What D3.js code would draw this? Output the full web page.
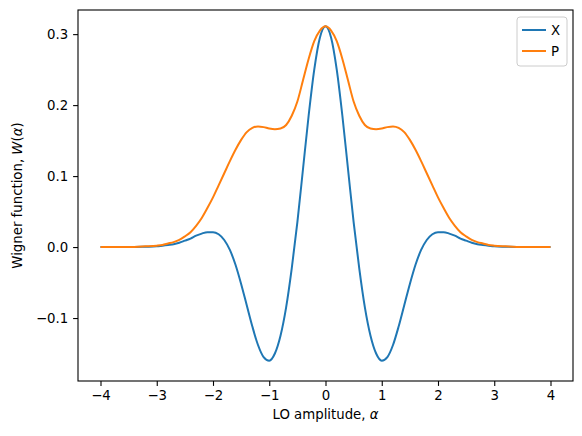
<!DOCTYPE html><html><head><meta charset="utf-8"><script src="https://d3js.org/d3.v7.min.js"></script>
<style>body{margin:0;background:#fff}text{font-family:"DejaVu Sans",sans-serif}</style></head><body><svg id="c" width="582" height="436"></svg>
<script>
const alpha=[-4,-3.5,-3.2,-3,-2.9,-2.8,-2.7,-2.6,-2.5,-2.4,-2.3,-2.2,-2.1,-2,-1.9,-1.8,-1.7,-1.6,-1.5,-1.4,-1.3,-1.2,-1.1,-1,-0.9,-0.8,-0.7,-0.6,-0.5,-0.4,-0.3,-0.2,-0.1,0,0.1,0.2,0.3,0.4,0.5,0.6,0.7,0.8,0.9,1,1.1,1.2,1.3,1.4,1.5,1.6,1.7,1.8,1.9,2,2.1,2.2,2.3,2.4,2.5,2.6,2.7,2.8,2.9,3,3.2,3.5,4];
const wX=[0,0,0.0005,0.001,0.002,0.003,0.004,0.006,0.009,0.012,0.016,0.019,0.021,0.021,0.018,0.010,-0.004,-0.025,-0.052,-0.082,-0.112,-0.138,-0.155,-0.160,-0.150,-0.125,-0.085,-0.030,0.035,0.110,0.185,0.250,0.295,0.311,0.295,0.250,0.185,0.110,0.035,-0.030,-0.085,-0.125,-0.150,-0.160,-0.155,-0.138,-0.112,-0.082,-0.052,-0.025,-0.004,0.010,0.018,0.021,0.021,0.019,0.016,0.012,0.009,0.006,0.004,0.003,0.002,0.001,0.0005,0,0];
const wP=[0,0,0.001,0.002,0.003,0.005,0.007,0.010,0.015,0.021,0.030,0.041,0.055,0.070,0.087,0.104,0.121,0.137,0.151,0.162,0.168,0.170,0.169,0.167,0.166,0.167,0.172,0.185,0.205,0.235,0.265,0.290,0.305,0.311,0.305,0.290,0.265,0.235,0.205,0.185,0.172,0.167,0.166,0.167,0.169,0.170,0.168,0.162,0.151,0.137,0.121,0.104,0.087,0.070,0.055,0.041,0.030,0.021,0.015,0.010,0.007,0.005,0.003,0.002,0.001,0,0];
const xTicks=[-4,-3,-2,-1,0,1,2,3,4];
const yTicks=[-0.1,0.0,0.1,0.2,0.3];
const series=[{name:"X",v:wX,c:"#1f77b4"},{name:"P",v:wP,c:"#ff7f0e"}];
const L=78,R=573,T=10,B=381,FS=13.3;
const svg=d3.select("#c");
const x=d3.scaleLinear().domain([-4.4,4.4]).range([L,R]);
const y=d3.scaleLinear().domain([-0.1887,0.334]).range([B,T]);
const line=d3.line().x((d,i)=>x(alpha[i])).y(d=>y(d)).curve(d3.curveMonotoneX);
series.forEach(s=>svg.append("path").attr("d",line(s.v)).attr("fill","none").attr("stroke",s.c).attr("stroke-width",2));
svg.append("g").attr("transform",`translate(0,${B})`).call(d3.axisBottom(x).tickValues(xTicks).tickSize(4.9).tickPadding(4.9).tickFormat(d=>(d<0?"\u2212":"")+Math.abs(d)));
svg.append("g").attr("transform",`translate(${L},0)`).call(d3.axisLeft(y).tickValues(yTicks).tickSize(4.9).tickPadding(4.9).tickFormat(d=>(d<0?"\u2212":"")+Math.abs(d).toFixed(1)));
svg.selectAll(".tick text").attr("font-size",FS).attr("fill","#000").attr("font-family","DejaVu Sans");
svg.selectAll(".tick line").attr("stroke-width",1.1);
svg.selectAll(".domain").remove();
svg.append("rect").attr("x",L).attr("y",T).attr("width",R-L).attr("height",B-T).attr("fill","none").attr("stroke","#000").attr("stroke-width",1.1);
const xl=svg.append("text").attr("x",(L+R)/2).attr("y",419).attr("text-anchor","middle").attr("font-size",FS);
xl.append("tspan").text("LO amplitude, ");xl.append("tspan").attr("font-style","italic").text("α");
const yl=svg.append("text").attr("transform",`translate(22,${(T+B)/2}) rotate(-90)`).attr("text-anchor","middle").attr("font-size",FS);
yl.append("tspan").text("Wigner function, ");yl.append("tspan").attr("font-style","italic").text("W");yl.append("tspan").text("(");yl.append("tspan").attr("font-style","italic").text("α");yl.append("tspan").text(")");
const lg=svg.append("g");
lg.append("rect").attr("x",517).attr("y",17).attr("width",50).attr("height",49).attr("rx",3).attr("fill","#fff").attr("fill-opacity",0.8).attr("stroke","#ccc");
series.forEach((s,i)=>{const yy=30+i*21;
lg.append("line").attr("x1",522).attr("x2",546).attr("y1",yy).attr("y2",yy).attr("stroke",s.c).attr("stroke-width",2);
lg.append("text").attr("x",551).attr("y",yy+4.7).attr("font-size",FS).text(s.name);});
</script></body></html>
